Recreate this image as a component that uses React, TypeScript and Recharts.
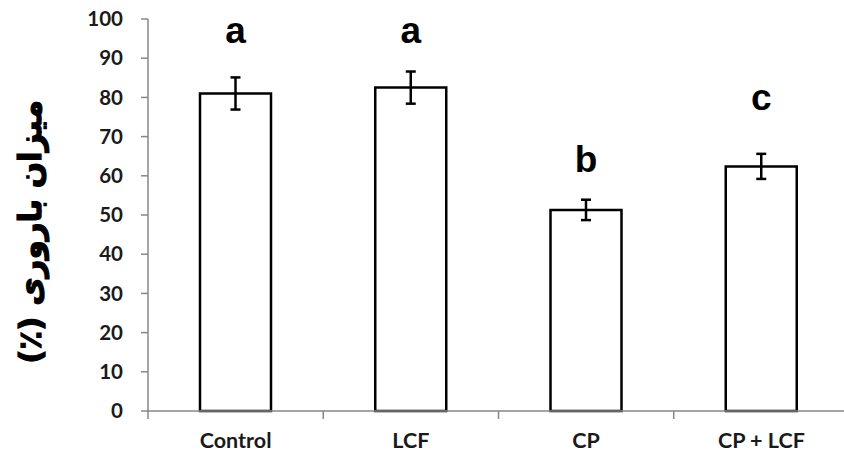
import { ComposedChart, Bar, Scatter, ErrorBar, XAxis, YAxis } from 'recharts';

const groups = ['Control', 'LCF', 'CP', 'CP + LCF'];
const fertility = [81, 82.5, 51.3, 62.4];
const stdErr = [4.1, 4.1, 2.6, 3.2];
const letters = ['a', 'a', 'b', 'c'];
const letterBase = [94, 94, 61, 76.8];
const yTicks = [0, 10, 20, 30, 40, 50, 60, 70, 80, 90, 100];

const data = groups.map((g, i) => ({
  group: g,
  value: fertility[i],
  err: stdErr[i],
  letter: letters[i],
  letterPos: letterBase[i],
}));

const axisGray = '#878787';

const GroupTick = (props: any) => {
  const { x, y, payload } = props;
  const half = payload.offset ?? 0;
  return (
    <g>
      <line x1={x - half} y1={y} x2={x - half} y2={y + 8} stroke={axisGray} strokeWidth={1.5} />
      <text
        x={x}
        y={y + 37}
        textAnchor="middle"
        fill="#1a1a1a"
        fontFamily="Lato, sans-serif"
        fontWeight={700}
        fontSize={21.5}
      >
        {payload.value}
      </text>
    </g>
  );
};

const LetterMark = (props: any) => {
  const { cx, cy, payload } = props;
  return (
    <text
      x={cx}
      y={cy}
      textAnchor="middle"
      fill="#000"
      fontFamily="'Liberation Sans', Arial, sans-serif"
      fontWeight={700}
      fontSize={37}
    >
      {payload.letter}
    </text>
  );
};

const YTitle = (props: any) => {
  const { viewBox } = props;
  const cx = viewBox.x + 30;
  const cy = viewBox.y + viewBox.height / 2 + 17;
  return (
    <text
      x={cx}
      y={cy}
      transform={`rotate(-90, ${cx}, ${cy})`}
      textAnchor="middle"
      dominantBaseline="central"
      direction="rtl"
      fill="#000"
      stroke="#000"
      strokeWidth={1.2}
      fontFamily="'DejaVu Sans', sans-serif"
      fontWeight={700}
      fontSize={31}
    >
      میزان باروری (٪)
    </text>
  );
};

export default function App() {
  return (
    <div style={{ position: 'absolute', left: 0, top: 0, background: '#fff' }}>
      <ComposedChart
        width={844}
        height={456}
        data={data}
        margin={{ top: 19, right: -5, left: 0, bottom: 0 }}
      >
        <XAxis
          dataKey="group"
          height={45}
          axisLine={{ stroke: axisGray, strokeWidth: 1.5 }}
          tickLine={false}
          tickSize={0}
          tickMargin={0}
          tick={<GroupTick />}
          interval={0}
        />
        <YAxis
          width={148}
          domain={[0, 100]}
          ticks={yTicks}
          interval={0}
          axisLine={{ stroke: axisGray, strokeWidth: 1.5 }}
          tickLine={{ stroke: axisGray, strokeWidth: 1.5 }}
          tickSize={7}
          tickMargin={18}
          tick={{ fill: '#1a1a1a', fontFamily: 'Lato, sans-serif', fontWeight: 700, fontSize: 20.5 }}
          label={<YTitle />}
        />
        <Bar
          dataKey="value"
          fill="#fff"
          stroke="#000"
          strokeWidth={2.5}
          barSize={71}
          isAnimationActive={false}
        >
          <ErrorBar dataKey="err" width={5} stroke="#000" strokeWidth={2.5} direction="y" />
        </Bar>
        <Scatter dataKey="letterPos" shape={<LetterMark />} isAnimationActive={false} />
      </ComposedChart>
    </div>
  );
}
